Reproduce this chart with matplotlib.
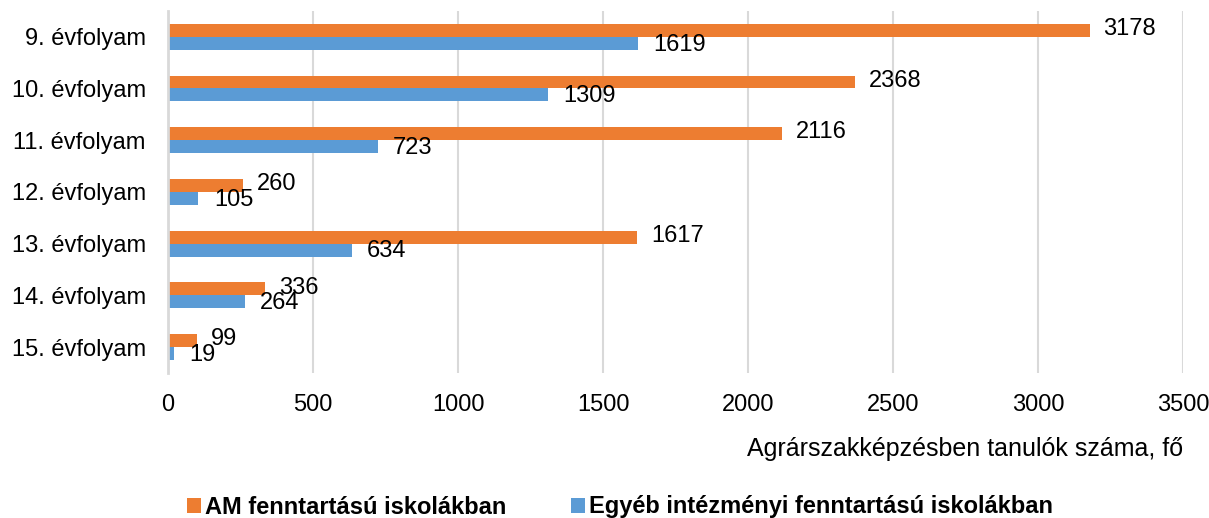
import matplotlib
matplotlib.use("Agg")
import matplotlib.pyplot as plt
import numpy as np

categories = ["9. évfolyam", "10. évfolyam", "11. évfolyam", "12. évfolyam",
              "13. évfolyam", "14. évfolyam", "15. évfolyam"]
am_values = [3178, 2368, 2116, 260, 1617, 336, 99]
other_values = [1619, 1309, 723, 105, 634, 264, 19]
series_names = ["AM fenntartású iskolákban", "Egyéb intézményi fenntartású iskolákban"]
x_ticks = [0, 500, 1000, 1500, 2000, 2500, 3000, 3500]
x_label = "Agrárszakképzésben tanulók száma, fő"

plt.rcParams['font.family'] = ['Liberation Sans', 'DejaVu Sans']

fig = plt.figure(figsize=(12.09, 5.18), dpi=100)
ax = fig.add_axes([0.139, 0.280, 0.8395, 0.699])

orange = "#ED7D31"
blue = "#5B9BD5"
y = np.arange(len(categories))
h = 0.25
b1 = ax.barh(y - h / 2, am_values, height=h, color=orange, label=series_names[0], zorder=3)
b2 = ax.barh(y + h / 2, other_values, height=h, color=blue, label=series_names[1], zorder=3)

FS = 17
for rect, v in zip(b1, am_values):
    ax.annotate(str(v), (rect.get_width(), rect.get_y() + rect.get_height() / 2),
                xytext=(10, 1), textcoords="offset points", ha="left", va="center",
                fontsize=FS, zorder=5)
for rect, v in zip(b2, other_values):
    ax.annotate(str(v), (rect.get_width(), rect.get_y() + rect.get_height() / 2),
                xytext=(11, -1), textcoords="offset points", ha="left", va="center",
                fontsize=FS, zorder=5)

ax.set_xlim(0, 3500)
ax.set_ylim(len(categories) - 0.5, -0.5)
ax.set_yticks(y)
ax.set_yticklabels(categories, fontsize=FS)
ax.set_xticks(x_ticks)
ax.set_xticklabels([str(t) for t in x_ticks], fontsize=FS)
ax.tick_params(axis="both", length=0)
ax.tick_params(axis="x", pad=15)
ax.tick_params(axis="y", pad=16)
ax.grid(axis="x", color="#d9d9d9", linewidth=1.5, zorder=0)
for s in ["top", "right", "bottom"]:
    ax.spines[s].set_visible(False)
ax.spines["left"].set_color("#d9d9d9")
ax.spines["left"].set_linewidth(2)
ax.spines["left"].set_zorder(4)

fig.text(0.9785, 1 - 449 / 518, x_label, ha="right", va="center", fontsize=18)

leg = fig.legend(handles=[b1, b2], labels=series_names, loc="center",
                 bbox_to_anchor=(620 / 1209, 1 - 507 / 518), ncol=2, frameon=False,
                 prop={"weight": "bold", "size": 17},
                 handlelength=0.6, handleheight=0.6,
                 handletextpad=0.2, columnspacing=2.7)

fig.savefig("out.png", dpi=100)
